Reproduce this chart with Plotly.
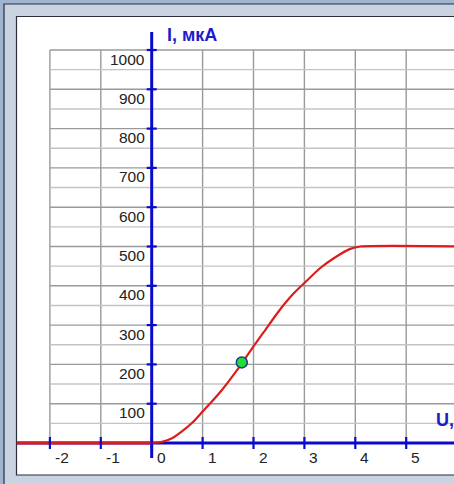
import plotly.graph_objects as go

# ---- data ----
u_curve = [0, 0.2, 0.4, 0.6, 0.8, 1.0, 1.2, 1.4, 1.6, 1.8, 2.0, 2.2, 2.5, 2.8, 3.0, 3.3, 3.6, 3.9, 4.1, 6.2]
i_curve = [0, 3, 12, 30, 52, 80, 108, 138, 172, 208, 246, 282, 336, 382, 407, 444, 472, 494, 500, 500]
u_neg = [-2.65, 0]
i_neg = [0, 0]
point_u = [1.77]
point_i = [205]
x_ticks = [-2, -1, 0, 1, 2, 3, 4, 5]
x_tick_labels = ["-2", "-1", "0", "1", "2", "3", "4", "5"]
y_ticks = [100, 200, 300, 400, 500, 600, 700, 800, 900, 1000]
y_tick_labels = ["100", "200", "300", "400", "500", "600", "700", "800", "900", "1000"]
y_minor = [50, 150, 250, 350, 450, 550, 650, 750, 850, 950]
x_grid = [-2, -1, 0, 1, 2, 3, 4, 5, 6]

W, H = 454, 484
PXU = 50.9      # pixels per volt
PXI = 0.393     # pixels per uA
X0PX = 151.7    # pixel of U=0
Y0PX = 443.0    # pixel of I=0

x_range = [-X0PX / PXU, (W - X0PX) / PXU]
y_range = [-(H - Y0PX) / PXI, Y0PX / PXI]

def du(px):
    return px / PXU

def di(px):
    return px / PXI

fig = go.Figure()

# grid: vertical
gx, gy = [], []
for v in x_grid:
    gx += [v, v, None]
    gy += [0, 1000, None]
fig.add_trace(go.Scatter(x=gx, y=gy, mode="lines", line=dict(color="#9a9a9a", width=1.4),
                         hoverinfo="skip", showlegend=False))
# grid: minor horizontal
hx, hy = [], []
for v in y_minor:
    hx += [-2, 6.5, None]
    hy += [v, v, None]
fig.add_trace(go.Scatter(x=hx, y=hy, mode="lines", line=dict(color="#c4c4c4", width=1.4),
                         hoverinfo="skip", showlegend=False))
# grid: major horizontal
hx, hy = [], []
for v in y_ticks:
    hx += [-2, 6.5, None]
    hy += [v, v, None]
fig.add_trace(go.Scatter(x=hx, y=hy, mode="lines", line=dict(color="#9a9a9a", width=1.4),
                         hoverinfo="skip", showlegend=False))

axis_blue = "#0a0acd"
# axes lines
fig.add_trace(go.Scatter(x=[x_range[0] + du(17), 6.5], y=[0, 0], mode="lines",
                         line=dict(color=axis_blue, width=3), hoverinfo="skip", showlegend=False))
fig.add_trace(go.Scatter(x=[0, 0], y=[-di(458 - Y0PX), di(Y0PX - 32)], mode="lines",
                         line=dict(color=axis_blue, width=3), hoverinfo="skip", showlegend=False))

# red characteristic
red = "#dd1c1c"
fig.add_trace(go.Scatter(x=u_neg, y=i_neg, mode="lines", line=dict(color=red, width=2.8),
                         hoverinfo="skip", showlegend=False))
fig.add_trace(go.Scatter(x=u_curve, y=i_curve, mode="lines", line=dict(color=red, width=2.2, shape="spline", smoothing=0.6),
                         hoverinfo="skip", showlegend=False))

# ticks
tx, ty = [], []
for v in x_ticks:
    tx += [v, v, None]
    ty += [-di(6), di(6), None]
fig.add_trace(go.Scatter(x=tx, y=ty, mode="lines", line=dict(color=axis_blue, width=2.2),
                         hoverinfo="skip", showlegend=False))
tx, ty = [], []
for v in y_ticks:
    tx += [-du(5), du(5), None]
    ty += [v, v, None]
fig.add_trace(go.Scatter(x=tx, y=ty, mode="lines", line=dict(color=axis_blue, width=2.2),
                         hoverinfo="skip", showlegend=False))

# green point
fig.add_trace(go.Scatter(x=point_u, y=point_i, mode="markers",
                         marker=dict(color="#22dd33", size=11, line=dict(color="#1a3a8a", width=1.5)),
                         hoverinfo="skip", showlegend=False))

annotations = []
lab_font = dict(family="Liberation Sans, Arial, sans-serif", size=15.5, color="#222222")
for v, t in zip(y_ticks, y_tick_labels):
    annotations.append(dict(x=-du(4.5), y=v - di(9), xref="x", yref="y", text=t, showarrow=False,
                            xanchor="right", yanchor="middle", font=lab_font))
for v, t in zip(x_ticks, x_tick_labels):
    annotations.append(dict(x=v + du(3), y=-di(14), xref="x", yref="y", text=t, showarrow=False,
                            xanchor="left", yanchor="middle", font=lab_font))
title_font = dict(family="Liberation Sans, Arial, sans-serif", size=18, color="#1c1cc8")
annotations.append(dict(x=du(165 - X0PX), y=di(Y0PX - 34.5), xref="x", yref="y", text="<b>I, мкА</b>",
                        showarrow=False, xanchor="left", yanchor="middle", font=title_font))
annotations.append(dict(x=du(434 - X0PX), y=di(Y0PX - 420), xref="x", yref="y", text="<b>U, В</b>",
                        showarrow=False, xanchor="left", yanchor="middle", font=title_font))

def px(x):
    return x / W

def py(y):
    return 1 - y / H

shapes = [
    dict(type="rect", xref="paper", yref="paper", x0=px(4), x1=px(470), y0=py(4), y1=py(500),
         fillcolor="#c9d3e2", line=dict(color="#2a2f3a", width=1.2), layer="below"),
    dict(type="rect", xref="paper", yref="paper", x0=px(16.5), x1=px(470), y0=py(16.5), y1=py(475),
         fillcolor="#ffffff", line=dict(color="#2a2f3a", width=1.2), layer="below"),
]

fig.update_layout(
    width=W, height=H, autosize=False,
    margin=dict(l=0, r=0, t=0, b=0, pad=0),
    paper_bgcolor="#9fb4d0", plot_bgcolor="rgba(0,0,0,0)",
    xaxis=dict(range=x_range, visible=False, fixedrange=True),
    yaxis=dict(range=y_range, visible=False, fixedrange=True),
    shapes=shapes, annotations=annotations, showlegend=False,
)

fig.write_html(
    "out.html",
    config={"displayModeBar": False},
    post_script="document.body.style.margin='0';document.body.style.overflow='hidden';",
)
